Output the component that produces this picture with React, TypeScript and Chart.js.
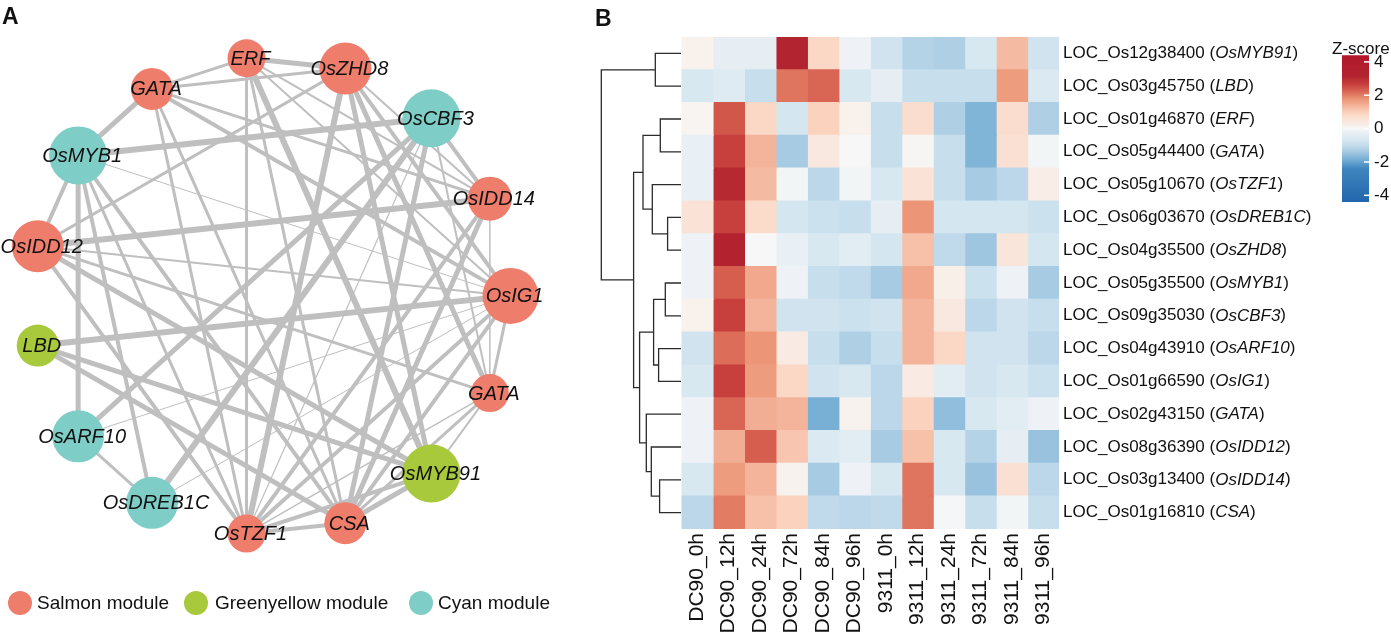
import React, { useEffect, useRef } from "react";
import { Chart, registerables } from "chart.js";

Chart.register(...registerables);

const FONT = '"Liberation Sans", Arial, Helvetica, sans-serif';
Chart.defaults.font.family = FONT;

// ---------------- Panel A: network data ----------------
const nodeNames = ["ERF", "OsZHD8", "OsCBF3", "OsIDD14", "OsIG1", "GATA", "OsMYB91", "CSA", "OsTZF1", "OsDREB1C", "OsARF10", "LBD", "OsIDD12", "OsMYB1", "GATA"];
const nodeModules = ["salmon", "salmon", "cyan", "salmon", "salmon", "salmon", "greenyellow", "salmon", "salmon", "cyan", "cyan", "greenyellow", "salmon", "cyan", "salmon"];
const nodeSizes = [19, 26, 29, 22, 28, 19, 29, 21, 19, 26, 26, 21, 26, 29, 21];
const edgePairs = [
  [0, 1], [0, 14], [0, 8], [0, 6], [0, 7], [0, 3], [0, 4],
  [1, 14], [1, 8], [1, 5], [1, 4], [1, 6], [1, 12], [1, 3],
  [2, 13], [2, 10], [2, 9], [2, 7], [2, 8], [2, 3], [2, 5],
  [3, 12], [3, 7], [3, 8], [3, 5], [3, 14],
  [4, 11], [4, 5], [4, 8], [4, 13], [4, 10], [4, 9], [4, 14], [4, 12], [4, 7],
  [5, 12], [5, 6], [5, 8], [5, 7],
  [6, 7], [6, 8], [6, 11], [6, 12],
  [7, 8], [7, 11], [7, 13], [7, 14],
  [8, 12], [8, 13], [8, 14],
  [9, 10], [9, 13],
  [10, 13],
  [13, 14], [13, 12],
];
const edgeWeights = [
  5, 3, 3, 6, 3, 2, 2,
  3, 6, 5, 4, 5, 3, 2,
  6, 5, 6, 5, 1.2, 4, 2,
  6, 5, 4, 1.5, 3,
  6, 3, 4, 1, 1, 1, 4, 2, 4,
  3, 2, 1.5, 3,
  5, 4, 5, 5,
  4, 5, 4, 3,
  4, 3, 3,
  3, 4,
  5,
  5, 4,
];
const moduleKeys = ["salmon", "greenyellow", "cyan"];
const moduleNames = ["Salmon module", "Greenyellow module", "Cyan module"];

// ---------------- Panel B: heatmap data ----------------
const geneIds = ["LOC_Os12g38400", "LOC_Os03g45750", "LOC_Os01g46870", "LOC_Os05g44400", "LOC_Os05g10670", "LOC_Os06g03670", "LOC_Os04g35500", "LOC_Os05g35500", "LOC_Os09g35030", "LOC_Os04g43910", "LOC_Os01g66590", "LOC_Os02g43150", "LOC_Os08g36390", "LOC_Os03g13400", "LOC_Os01g16810"];
const geneNames = ["OsMYB91", "LBD", "ERF", "GATA", "OsTZF1", "OsDREB1C", "OsZHD8", "OsMYB1", "OsCBF3", "OsARF10", "OsIG1", "GATA", "OsIDD12", "OsIDD14", "CSA"];
const sampleLabels = ["DC90_0h", "DC90_12h", "DC90_24h", "DC90_72h", "DC90_84h", "DC90_96h", "9311_0h", "9311_12h", "9311_24h", "9311_72h", "9311_84h", "9311_96h"];
const zScores = [
  [0.16, -0.32, -0.32, 3.12, 0.88, -0.16, -0.8, -1.2, -1.28, -0.64, 1.28, -0.8],
  [-0.64, -0.48, -0.96, 2.08, 2.24, -0.64, -0.32, -0.96, -0.96, -0.96, 1.68, -0.56],
  [0.08, 2.4, 0.88, -0.72, 0.96, 0.16, -0.96, 0.72, -1.28, -1.76, 0.72, -1.28],
  [-0.24, 2.64, 1.36, -1.36, 0.4, 0, -0.96, 0.04, -0.96, -1.76, 0.64, -0.08],
  [-0.24, 3.04, 1.28, -0.08, -1.12, -0.08, -0.64, 0.56, -0.96, -1.36, -1.12, 0.24],
  [0.56, 2.64, 0.8, -0.72, -0.88, -0.96, -0.32, 1.76, -0.72, -0.72, -0.72, -0.88],
  [-0.16, 3.2, 0, -0.24, -0.64, -0.4, -0.72, 1.2, -1.04, -1.44, 0.48, -0.72],
  [-0.16, 2.32, 1.52, -0.16, -0.96, -1.04, -1.36, 1.52, 0.2, -0.88, -0.16, -1.36],
  [0.16, 2.64, 1.36, -0.8, -0.8, -0.88, -0.8, 1.36, 0.4, -1.12, -0.8, -0.96],
  [-0.8, 2.16, 1.76, 0.32, -0.96, -1.28, -0.96, 1.36, 0.88, -0.8, -0.8, -1.12],
  [-0.64, 2.64, 1.68, 0.88, -0.8, -0.64, -1.12, 0.32, -0.4, -0.8, -0.64, -0.88],
  [-0.16, 2.24, 1.44, 1.36, -1.84, 0.12, -1.12, 0.96, -1.6, -0.64, -0.4, -0.16],
  [-0.16, 1.44, 2.32, 1.12, -0.56, -0.4, -1.36, 1.2, -0.64, -1.2, -0.32, -1.52],
  [-0.64, 1.68, 1.36, 0.12, -1.36, -0.16, -0.64, 2.08, -0.64, -1.52, 0.64, -1.12],
  [-1.12, 2.0, 1.2, 0.96, -1.04, -1.12, -1.04, 2.08, -0.04, -0.96, -0.08, -0.96],
];
// hclust-style merges: negative = leaf (1-based row), positive = earlier merge (1-based)
const dendroMerges = [
  [-1, -2], [-3, -4], [-6, -7], [-5, 3], [2, 4], [-8, -9], [-10, -11], [6, 7],
  [-14, -15], [-13, 9], [-12, 10], [8, 11], [5, 12], [1, 13],
];
const dendroHeights = [25.7, 20.7, 13.4, 28.7, 38, 15.7, 22.4, 27.4, 21.4, 29.7, 34.7, 41.4, 47.4, 79.7];
const colorTicks = [4, 2, 0, -2, -4];
const colorRange = [-4.4, 4.4];

// ---------------- styles ----------------
const MODULE_COLORS: Record<string, string> = { salmon: "#ef7d6c", greenyellow: "#a7c93b", cyan: "#7fcdc7" };
const EDGE_COLOR = "#bfbfbf";
const Z_STOPS: [number, string][] = [
  [-4.4, "#2166ac"], [-2.4, "#3f86bf"], [-1.76, "#80b5d7"], [-1.28, "#afcfe5"], [-0.96, "#c7deed"],
  [-0.72, "#d4e6f0"], [-0.24, "#e9f0f5"], [0, "#f7f7f7"], [0.2, "#f8efe9"], [0.64, "#fae0d2"],
  [0.88, "#fbd8c5"], [1.36, "#f4b49b"], [1.76, "#ec9677"], [2.16, "#dc6d58"], [2.64, "#c8403d"],
  [3.12, "#b2242f"], [4.4, "#b2182b"],
];

function hexRgb(h: string) {
  return [parseInt(h.slice(1, 3), 16), parseInt(h.slice(3, 5), 16), parseInt(h.slice(5, 7), 16)];
}
function zColor(v: number) {
  if (v <= Z_STOPS[0][0]) return Z_STOPS[0][1];
  for (let i = 1; i < Z_STOPS.length; i++) {
    const [v1, c1] = Z_STOPS[i];
    const [v0, c0] = Z_STOPS[i - 1];
    if (v <= v1) {
      const t = (v - v0) / (v1 - v0);
      const a = hexRgb(c0), b = hexRgb(c1);
      const m = a.map((x, k) => Math.round(x + (b[k] - x) * t));
      return `rgb(${m[0]},${m[1]},${m[2]})`;
    }
  }
  return Z_STOPS[Z_STOPS.length - 1][1];
}

function useChart(build: (c: HTMLCanvasElement) => Chart) {
  const ref = useRef<HTMLCanvasElement>(null);
  useEffect(() => {
    const chart = build(ref.current as HTMLCanvasElement);
    return () => chart.destroy();
  }, []);
  return ref;
}

function Canvas({ r, left, top, width, height }: any) {
  return <canvas ref={r} width={width} height={height} style={{ position: "absolute", left, top, width, height }} />;
}

// ---------------- Network ----------------
const START_ANGLE = -6;
const nodePoints = nodeNames.map((_, i) => {
  const a = ((START_ANGLE + (i * 360) / nodeNames.length) * Math.PI) / 180;
  return { x: Math.sin(a), y: Math.cos(a) };
});

function NetworkChart() {
  const ref = useChart((canvas) => {
    const labelPlugin = {
      id: "nodeLabels",
      afterDatasetsDraw(chart: any) {
        const { ctx } = chart;
        const xs = chart.scales.x, ys = chart.scales.y;
        ctx.save();
        ctx.font = `italic 20px ${FONT}`;
        ctx.fillStyle = "#111";
        ctx.textAlign = "center";
        ctx.textBaseline = "middle";
        nodePoints.forEach((p, i) => {
          ctx.fillText(nodeNames[i], xs.getPixelForValue(p.x) + 4, ys.getPixelForValue(p.y) + 1);
        });
        ctx.restore();
      },
    };
    const edgeSets = edgePairs.map(([a, b], k) => ({
      data: [nodePoints[a], nodePoints[b]],
      showLine: true,
      borderColor: EDGE_COLOR,
      borderWidth: edgeWeights[k],
      pointRadius: 0,
      order: 2,
      clip: false as any,
    }));
    return new Chart(canvas, {
      type: "scatter",
      data: {
        datasets: [
          {
            data: nodePoints,
            pointRadius: nodeSizes,
            pointBackgroundColor: nodeModules.map((m) => MODULE_COLORS[m]),
            pointBorderWidth: 0,
            pointBorderColor: "rgba(0,0,0,0)",
            order: 1,
            clip: false as any,
          } as any,
          ...edgeSets,
        ],
      },
      options: {
        animation: false,
        responsive: false,
        events: [],
        layout: { padding: 0, autoPadding: false },
        plugins: { legend: { display: false }, tooltip: { enabled: false } },
        scales: {
          x: { type: "linear", min: -1.136, max: 1.207, display: false },
          y: { type: "linear", min: -1.444, max: 1.238, display: false },
        },
      },
      plugins: [labelPlugin],
    });
  });
  return <Canvas r={ref} left={0} top={0} width={560} height={641} />;
}

// ---------------- Dendrogram ----------------
function Dendrogram() {
  const ref = useChart((canvas) => {
    const pos: { y: number; h: number }[] = [];
    const child = (c: number) => (c < 0 ? { y: -c - 1, h: 0 } : pos[c - 1]);
    const sets: any[] = [];
    dendroMerges.forEach(([a, b], i) => {
      const A = child(a), B = child(b), H = dendroHeights[i];
      pos.push({ y: (A.y + B.y) / 2, h: H });
      sets.push({
        data: [{ x: A.h, y: A.y }, { x: H, y: A.y }, { x: H, y: B.y }, { x: B.h, y: B.y }],
        showLine: true,
        borderColor: "#2b2b2b",
        borderWidth: 1.3,
        pointRadius: 0,
        tension: 0,
        clip: false,
      });
    });
    return new Chart(canvas, {
      type: "scatter",
      data: { datasets: sets },
      options: {
        animation: false,
        responsive: false,
        events: [],
        layout: { padding: { left: 11, right: 0, top: 37, bottom: 112 }, autoPadding: false },
        plugins: { legend: { display: false }, tooltip: { enabled: false } },
        scales: {
          x: { type: "linear", min: 0, max: 80, reverse: true, display: false },
          y: { type: "linear", min: -0.5, max: geneIds.length - 0.5, reverse: true, display: false },
        },
      },
    });
  });
  return <Canvas r={ref} left={590} top={0} width={91} height={641} />;
}

// ---------------- Heatmap ----------------
function Heatmap() {
  const ref = useChart((canvas) => {
    const rowLabelPlugin = {
      id: "rowLabels",
      afterDraw(chart: any) {
        const { ctx, chartArea } = chart;
        const ys = chart.scales.y;
        ctx.save();
        ctx.fillStyle = "#111";
        ctx.textBaseline = "middle";
        ctx.textAlign = "left";
        geneIds.forEach((id, i) => {
          const y = ys.getPixelForValue(i);
          let x = chartArea.right + 4;
          ctx.font = `17px ${FONT}`;
          const pre = `${id} (`;
          ctx.fillText(pre, x, y);
          x += ctx.measureText(pre).width;
          ctx.font = `italic 17px ${FONT}`;
          ctx.fillText(geneNames[i], x, y);
          x += ctx.measureText(geneNames[i]).width;
          ctx.font = `17px ${FONT}`;
          ctx.fillText(")", x, y);
        });
        ctx.restore();
      },
    };
    return new Chart(canvas, {
      type: "bar",
      data: {
        labels: geneIds,
        datasets: sampleLabels.map((s, j) => ({
          label: s,
          data: geneIds.map(() => 1),
          backgroundColor: zScores.map((row) => zColor(row[j])),
          borderWidth: 0,
          barPercentage: 1,
          categoryPercentage: 1,
          inflateAmount: 0.6,
        })),
      },
      options: {
        indexAxis: "y",
        animation: false,
        responsive: false,
        events: [],
        layout: { padding: { left: 91.5, right: 332, top: 37, bottom: 0 }, autoPadding: false },
        plugins: { legend: { display: false }, tooltip: { enabled: false } },
        scales: {
          x: {
            type: "linear",
            stacked: true,
            min: 0,
            max: sampleLabels.length,
            grid: { display: false, drawTicks: false },
            border: { display: false },
            afterBuildTicks: (s: any) => {
              s.ticks = sampleLabels.map((_, i) => ({ value: i + 0.5 }));
            },
            afterFit: (s: any) => {
              s.height = 112;
            },
            ticks: {
              autoSkip: false,
              minRotation: 90,
              maxRotation: 90,
              padding: 4,
              color: "#111",
              font: { family: FONT, size: 21 },
              callback: (_v: any, i: number) => sampleLabels[i],
            },
          },
          y: { stacked: true, display: false },
        },
      } as any,
      plugins: [rowLabelPlugin],
    });
  });
  return <Canvas r={ref} left={590} top={0} width={801} height={641} />;
}

// ---------------- Colour bar ----------------
function ColorBar() {
  const ref = useChart((canvas) => {
    const tickPlugin = {
      id: "cbTicks",
      afterDatasetsDraw(chart: any) {
        const { ctx, chartArea } = chart;
        const ys = chart.scales.y;
        ctx.save();
        ctx.strokeStyle = "#ffffff";
        ctx.lineWidth = 1.5;
        colorTicks.forEach((v) => {
          const y = ys.getPixelForValue(v);
          ctx.beginPath();
          ctx.moveTo(chartArea.right - 5, y);
          ctx.lineTo(chartArea.right + 3, y);
          ctx.stroke();
        });
        ctx.restore();
      },
    };
    return new Chart(canvas, {
      type: "bar",
      data: {
        labels: ["Z-score"],
        datasets: [
          {
            data: [colorRange as any],
            barPercentage: 1,
            categoryPercentage: 1,
            borderWidth: 0,
            backgroundColor: (c: any) => {
              const ca = c.chart.chartArea;
              if (!ca) return "#ffffff";
              const g = c.chart.ctx.createLinearGradient(0, ca.bottom, 0, ca.top);
              const span = colorRange[1] - colorRange[0];
              Z_STOPS.forEach(([v, col]) => {
                const t = (v - colorRange[0]) / span;
                if (t >= 0 && t <= 1) g.addColorStop(t, col);
              });
              return g;
            },
          },
        ],
      },
      options: {
        animation: false,
        responsive: false,
        events: [],
        layout: { padding: { left: 12, right: 0, top: 15, bottom: 18 }, autoPadding: false },
        plugins: { legend: { display: false }, tooltip: { enabled: false } },
        scales: {
          x: { display: false },
          y: {
            type: "linear",
            position: "right",
            min: colorRange[0],
            max: colorRange[1],
            grid: { display: false, drawTicks: false },
            border: { display: false },
            afterBuildTicks: (s: any) => {
              s.ticks = colorTicks.map((v) => ({ value: v }));
            },
            afterFit: (s: any) => {
              s.width = 22;
            },
            ticks: { padding: 5, color: "#111", font: { family: FONT, size: 17 } },
          },
        },
      } as any,
      plugins: [tickPlugin],
    });
  });
  return <Canvas r={ref} left={1330} top={40} width={61} height={180} />;
}

// ---------------- App ----------------
const legendPos = [
  [20, 37],
  [196, 215],
  [421, 438],
];

export default function App() {
  return (
    <div
      style={{
        position: "absolute",
        left: 0,
        top: 0,
        width: 1391,
        height: 641,
        background: "#ffffff",
        fontFamily: FONT,
        overflow: "hidden",
        color: "#111",
      }}
    >
      <NetworkChart />
      <Dendrogram />
      <Heatmap />
      <ColorBar />
      <div style={{ position: "absolute", left: 2, top: 5, fontSize: 23, lineHeight: "23px", fontWeight: "bold" }}>A</div>
      <div style={{ position: "absolute", left: 595, top: 7, fontSize: 23, lineHeight: "23px", fontWeight: "bold" }}>B</div>
      <div style={{ position: "absolute", left: 1332, top: 40, fontSize: 17, lineHeight: "17px", whiteSpace: "nowrap" }}>Z-score</div>
      {moduleNames.map((name, i) => (
        <React.Fragment key={name}>
          <div
            style={{
              position: "absolute",
              left: legendPos[i][0] - 12,
              top: 591,
              width: 24,
              height: 24,
              borderRadius: "50%",
              background: MODULE_COLORS[moduleKeys[i]],
            }}
          />
          <div
            style={{
              position: "absolute",
              left: legendPos[i][1],
              top: 591,
              height: 24,
              lineHeight: "24px",
              fontSize: 19,
              whiteSpace: "nowrap",
            }}
          >
            {name}
          </div>
        </React.Fragment>
      ))}
    </div>
  );
}
